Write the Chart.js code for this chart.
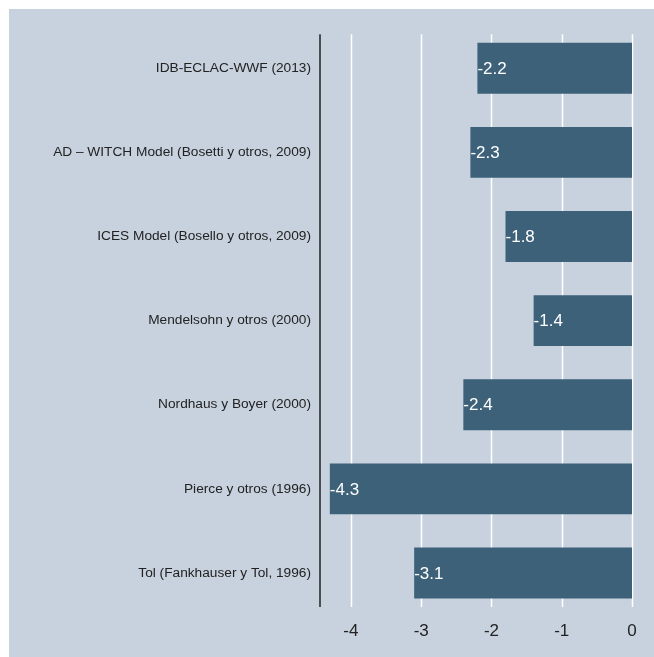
<!DOCTYPE html>
<html>
<head>
<meta charset="utf-8">
<script src="https://cdn.jsdelivr.net/npm/chart.js@4/dist/chart.umd.min.js"></script>
<style>
    html, body { margin: 0; padding: 0; background: #ffffff; }
    #wrap { position: absolute; left: 9px; top: 9px; width: 645px; height: 648px; background: #c7d2de; }
</style>
</head>
<body>
<div id="wrap"><canvas id="chart" width="645" height="648"></canvas></div>
<script>
const studies = [
    'IDB-ECLAC-WWF (2013)',
    'AD \u2013 WITCH Model (Bosetti y otros, 2009)',
    'ICES Model (Bosello y otros, 2009)',
    'Mendelsohn y otros (2000)',
    'Nordhaus y Boyer (2000)',
    'Pierce y otros (1996)',
    'Tol (Fankhauser y Tol, 1996)'
];
const impacts = [-2.2, -2.3, -1.8, -1.4, -2.4, -4.3, -3.1];
const tickValues = [-4, -3, -2, -1, 0];

// grid + axis line drawn a bit inside the category band, like the original
const gridPlugin = {
    id: 'shortGrid',
    beforeDatasetsDraw(chart) {
        const { ctx, chartArea, scales } = chart;
        const top = chartArea.top + 8;
        const bottom = chartArea.bottom - 8;
        ctx.save();
        ctx.strokeStyle = '#ffffff';
        ctx.lineWidth = 1.5;
        tickValues.forEach(v => {
            const x = Math.round(scales.x.getPixelForValue(v)) + 0.5;
            ctx.beginPath();
            ctx.moveTo(x, top);
            ctx.lineTo(x, bottom);
            ctx.stroke();
        });
        ctx.strokeStyle = '#222222';
        ctx.lineWidth = 1.5;
        ctx.beginPath();
        ctx.moveTo(chartArea.left, top);
        ctx.lineTo(chartArea.left, bottom);
        ctx.stroke();
        ctx.restore();
    }
};

const valueLabels = {
    id: 'valueLabels',
    afterDatasetsDraw(chart) {
        const { ctx } = chart;
        const meta = chart.getDatasetMeta(0);
        ctx.save();
        ctx.fillStyle = '#ffffff';
        ctx.font = '17px "Liberation Sans", Arial, sans-serif';
        ctx.textAlign = 'left';
        ctx.textBaseline = 'middle';
        meta.data.forEach((bar, i) => {
            ctx.fillText(impacts[i].toFixed(1), bar.x, bar.y + 1);
        });
        ctx.restore();
    }
};

new Chart(document.getElementById('chart'), {
    type: 'bar',
    data: {
        labels: studies,
        datasets: [{
            data: impacts,
            backgroundColor: '#3d6179',
            borderWidth: 0,
            categoryPercentage: 1,
            barPercentage: 0.605
        }]
    },
    options: {
        indexAxis: 'y',
        responsive: false,
        animation: false,
        layout: { padding: { top: 16, right: 22, left: 0, bottom: 0 } },
        plugins: { legend: { display: false }, tooltip: { enabled: false } },
        scales: {
            x: {
                min: -4.44,
                max: 0,
                afterBuildTicks: scale => { scale.ticks = tickValues.map(v => ({ value: v })); },
                grid: { display: false, drawTicks: false },
                border: { display: false },
                ticks: {
                    color: '#222222',
                    padding: 6,
                    font: { family: '"Liberation Sans", Arial, sans-serif', size: 17 }
                },
                afterFit: scale => { scale.height = 42; }
            },
            y: {
                grid: { display: false, drawTicks: false },
                border: { display: false },
                ticks: {
                    color: '#222222',
                    padding: 9,
                    font: { family: '"Liberation Sans", Arial, sans-serif', size: 13.7 }
                },
                afterFit: scale => { scale.width = 311; }
            }
        }
    },
    plugins: [gridPlugin, valueLabels]
});
</script>
</body>
</html>
